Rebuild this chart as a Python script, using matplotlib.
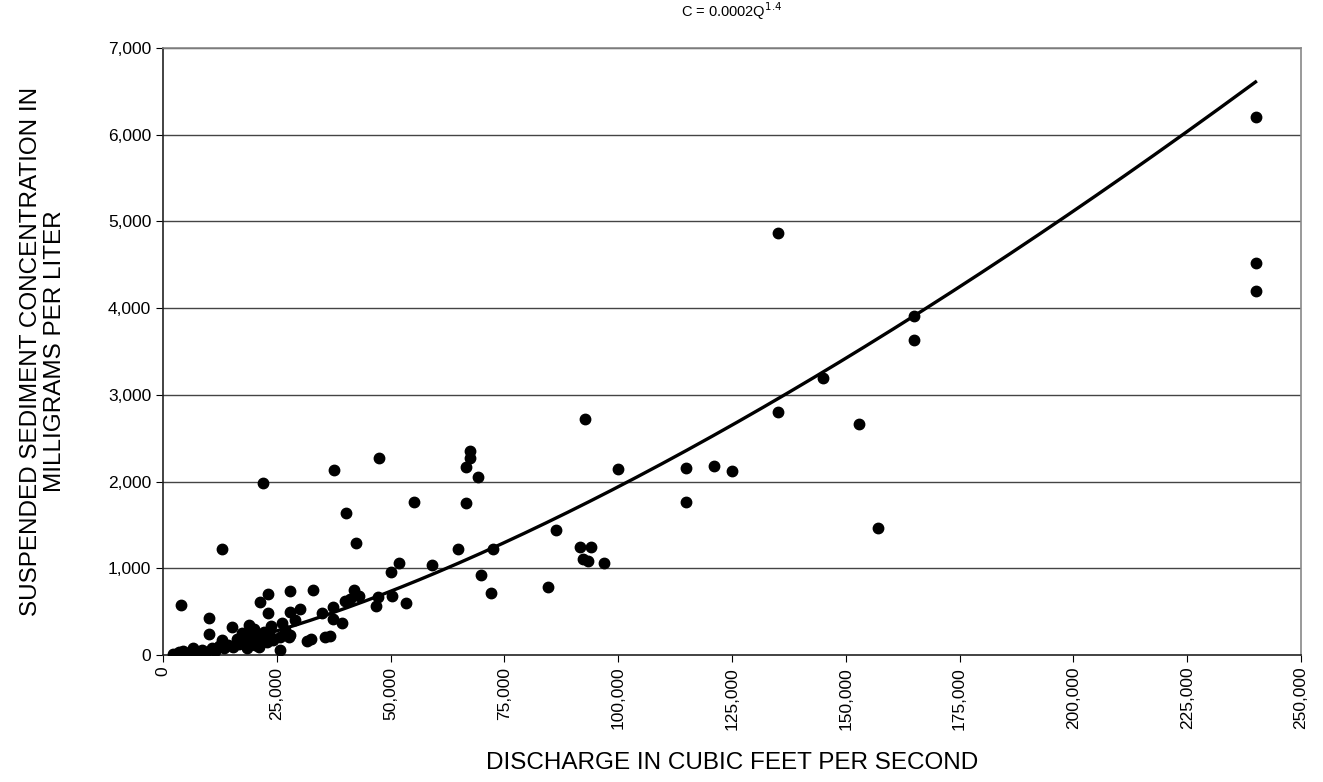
import matplotlib.pyplot as plt
import numpy as np
from matplotlib.ticker import FuncFormatter

plt.rcParams['font.family'] = ['Liberation Sans', 'DejaVu Sans']

# discharge (cfs) and suspended sediment concentration (mg/L)
discharge = [
    2200, 2900, 3600, 4500, 5400, 6700, 7600, 8500, 9500, 10700, 11500, 12200,
    12900, 13300, 14300, 15300, 16200, 17400, 16800, 18500, 18500, 19600, 20700,
    20200, 21400, 22200, 21000, 22800, 24100, 25600, 25600, 26700, 27800, 23500,
    19000, 20000,
    3900, 10000, 10000, 13000, 15200, 19000, 21300, 21900, 23000, 23000, 23700,
    26100, 27600, 27900, 28000, 29000, 30000, 31700, 32600, 33000, 34900, 35500,
    36700, 37300, 37300, 37500, 39400, 39900, 40200, 41000, 41900, 42400, 43000,
    46900, 47300, 47500, 50000, 50200, 51900, 53300, 55200, 59100, 64700, 66500,
    66500, 67500, 67500, 69200, 69900, 72100, 72400, 84500, 86400, 91700, 92200,
    93400, 94100, 96800, 92700, 100000, 115000, 115000, 121000, 125000, 135000,
    135000, 145000, 153000, 157000, 165000, 165000, 240000, 240000, 240000,
]
concentration = [
    15, 10, 30, 45, 25, 80, 35, 55, 30, 75, 45, 100,
    170, 75, 120, 95, 190, 250, 130, 170, 75, 285, 210,
    120, 170, 265, 95, 150, 170, 60, 210, 285, 230, 215,
    230, 300,
    575, 425, 240, 1225, 320, 350, 615, 1980, 700, 490, 335,
    365, 210, 500, 735, 400, 525, 165, 180, 745, 480, 205,
    220, 555, 415, 2130, 365, 620, 1640, 650, 755, 1290, 680,
    560, 670, 2270, 960, 680, 1060, 605, 1760, 1040, 1220, 2170,
    1750, 2270, 2350, 2050, 920, 710, 1220, 790, 1440, 1240, 1110,
    1080, 1250, 1060, 2720, 2140, 2160, 1770, 2180, 2120, 4870,
    2800, 3200, 2660, 1470, 3910, 3630, 6210, 4520, 4200,
]

# power-law fit C = a * Q^b (a as drawn, label rounds it to 0.0002)
fit_a = 0.000194
fit_b = 1.4

x_ticks = np.arange(0, 250001, 25000)
y_ticks = np.arange(0, 7001, 1000)


def main():
    fig = plt.figure(figsize=(13.23, 7.82), dpi=100)
    ax = fig.add_axes([0.1232, 0.1624, 0.8602, 0.7762])

    for y in y_ticks[1:]:
        ax.axhline(y, color='#444444', lw=1.0, zorder=1)

    ax.plot(discharge, concentration, 'o', color='black', ms=7.5, zorder=3)

    q = np.linspace(min(discharge), max(discharge), 300)
    ax.plot(q, fit_a * q ** fit_b, color='black', lw=2.4, zorder=2)

    ax.set_xlim(0, 250000)
    ax.set_ylim(0, 7000)
    ax.set_xticks(x_ticks)
    ax.set_yticks(y_ticks)
    fmt = FuncFormatter(lambda v, p: f"{int(v):,}")
    ax.xaxis.set_major_formatter(fmt)
    ax.yaxis.set_major_formatter(fmt)
    ax.tick_params(axis='x', labelrotation=90, labelsize=12.5, length=5, direction='out')
    ax.tick_params(axis='y', labelsize=12.5, length=5, direction='out')

    for side in ['left', 'bottom']:
        ax.spines[side].set_color('#222222')
        ax.spines[side].set_linewidth(1.2)
    for side in ['top', 'right']:
        ax.spines[side].set_color('#888888')
        ax.spines[side].set_linewidth(1.2)

    ax.set_xlabel("DISCHARGE IN CUBIC FEET PER SECOND", fontsize=17.5, labelpad=16)
    ax.set_ylabel("SUSPENDED SEDIMENT CONCENTRATION IN\nMILLIGRAMS PER LITER",
                  fontsize=17.5, labelpad=30, linespacing=1.15)
    ax.set_title(r"C = 0.0002Q$^{1.4}$", fontsize=10.5, pad=22)

    fig.savefig("out.png", dpi=100)


if __name__ == '__main__':
    main()
